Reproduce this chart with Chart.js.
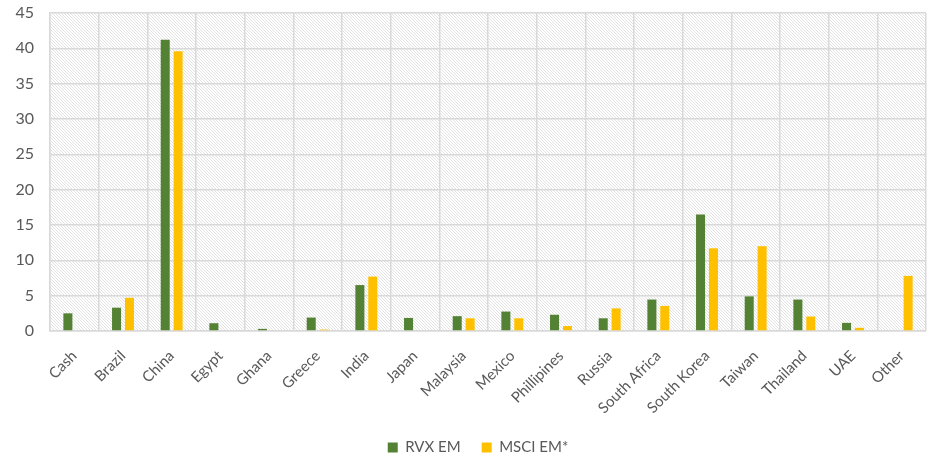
<!DOCTYPE html>
<html>
<head>
<meta charset="utf-8">
<script src="https://cdn.jsdelivr.net/npm/chart.js@4"></script>
<style>
  html, body { margin: 0; padding: 0; background: #ffffff; }
  #wrap { width: 932px; height: 455px; position: relative; }
</style>
</head>
<body>
<div id="wrap"><canvas id="chart" width="932" height="455"></canvas></div>
<script>
// Country weights (%) for the fund and its benchmark
const categories = ['Cash', 'Brazil', 'China', 'Egypt', 'Ghana', 'Greece', 'India', 'Japan',
  'Malaysia', 'Mexico', 'Phillipines', 'Russia', 'South Africa', 'South Korea', 'Taiwan',
  'Thailand', 'UAE', 'Other'];
const rvxEm  = [2.5, 3.3, 41.2, 1.1, 0.3, 1.9, 6.5, 1.85, 2.1, 2.75, 2.3, 1.8, 4.45, 16.5, 4.9, 4.45, 1.15, 0];
const msciEm = [0, 4.7, 39.6, 0, 0, 0.2, 7.7, 0, 1.8, 1.8, 0.7, 3.2, 3.55, 11.7, 12.0, 2.05, 0.45, 7.8];
const yTicks = [0, 5, 10, 15, 20, 25, 30, 35, 40, 45];

const FONT = 'Lato, "Open Sans", sans-serif';
const TEXT = '#595959';
const GRID = '#d9d9d9';

// Fine diagonal hatch used as the plot-area fill
function makeHatch() {
  const c = document.createElement('canvas');
  c.width = 6; c.height = 6;
  const g = c.getContext('2d');
  g.fillStyle = '#ffffff';
  g.fillRect(0, 0, 6, 6);
  g.fillStyle = '#e2e2e2';
  for (let i = 0; i < 6; i++) {
    g.fillRect(i, i, 1, 1);
    g.fillRect((i + 3) % 6, i, 1, 1);
  }
  return g.createPattern(c, 'repeat');
}

const hatchBackground = {
  id: 'hatchBackground',
  beforeDraw(chart) {
    const { ctx, chartArea: a } = chart;
    ctx.save();
    ctx.fillStyle = makeHatch();
    ctx.fillRect(a.left, a.top, a.right - a.left, a.bottom - a.top);
    ctx.restore();
  }
};

// Nudge the legend a little to the right of the canvas centre
const legendShift = {
  id: 'legendShift',
  afterLayout(chart) {
    if (chart.legend) {
      chart.legend.left += 15;
      chart.legend.right += 15;
    }
  }
};

new Chart(document.getElementById('chart'), {
  type: 'bar',
  data: {
    labels: categories,
    datasets: [
      { label: 'RVX EM', data: rvxEm, backgroundColor: '#548235' },
      { label: 'MSCI EM*', data: msciEm, backgroundColor: '#ffc000' }
    ]
  },
  options: {
    responsive: false,
    animation: false,
    devicePixelRatio: 1,
    layout: { padding: { left: 0, right: 6, top: 13, bottom: -10 } },
    datasets: { bar: { barPercentage: 0.7, categoryPercentage: 0.53 } },
    plugins: {
      legend: {
        position: 'bottom',
        labels: {
          font: { family: FONT, size: 15 },
          color: TEXT,
          boxWidth: 10,
          boxHeight: 10,
          padding: 21
        }
      },
      tooltip: { enabled: false }
    },
    scales: {
      x: {
        grid: { color: GRID, lineWidth: 1.5, drawTicks: false },
        border: { color: GRID, width: 1.5 },
        ticks: {
          font: { family: FONT, size: 15 },
          color: TEXT,
          maxRotation: 45,
          minRotation: 45,
          padding: 16,
          autoSkip: false
        },
        afterFit(scale) {
          scale.height = 88;
          scale.paddingTop = 0;
          scale.paddingBottom = 0;
        }
      },
      y: {
        min: 0,
        max: 45,
        afterBuildTicks(scale) { scale.ticks = yTicks.map(v => ({ value: v })); },
        grid: { color: GRID, lineWidth: 1.5, drawTicks: false },
        border: { color: GRID, width: 1.5 },
        ticks: {
          font: { family: FONT, size: 16 },
          color: TEXT,
          padding: 16
        },
        afterFit(scale) {
          scale.width = 50;
          scale.paddingTop = 0;
          scale.paddingBottom = 0;
        }
      }
    }
  },
  plugins: [hatchBackground, legendShift]
});
</script>
</body>
</html>
